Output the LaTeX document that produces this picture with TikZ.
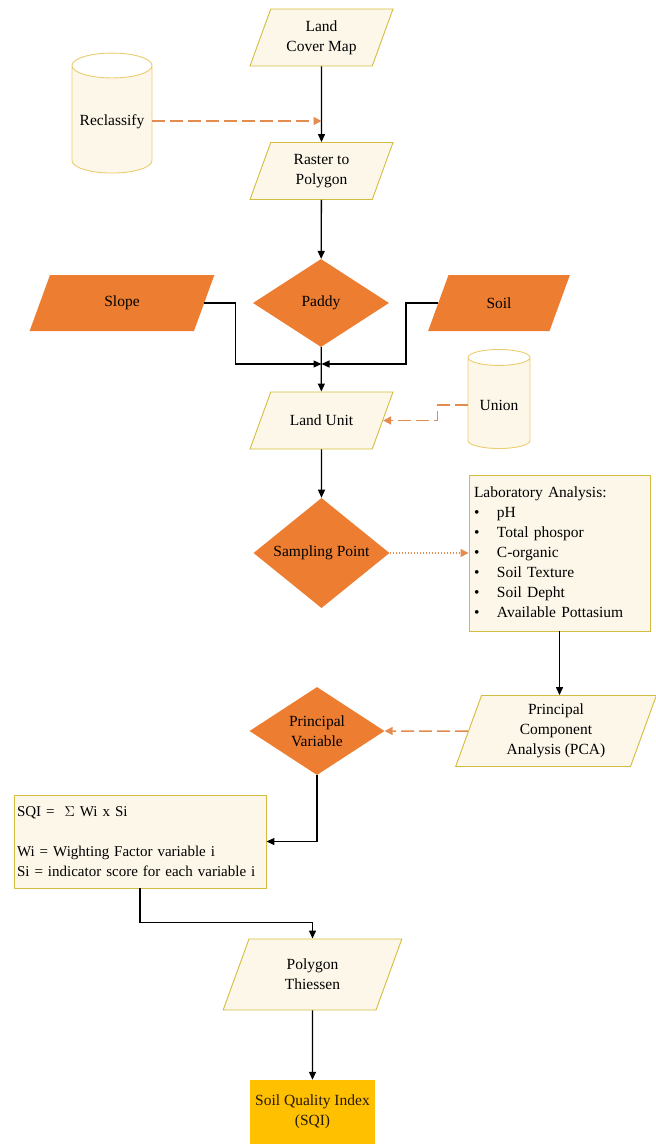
\documentclass[tikz,border=0pt]{standalone}
\usepackage{fontspec}
\setmainfont{Liberation Serif}
\usepackage{xcolor}
\usepackage{tikz}
\usetikzlibrary{arrows.meta,positioning,calc,shapes.geometric}
\definecolor{paddyorange}{RGB}{237,125,49}
\definecolor{cream}{RGB}{253,247,234}
\definecolor{goldline}{RGB}{212,188,62}
\definecolor{cylline}{RGB}{236,204,110}
\definecolor{sqigold}{RGB}{255,192,0}
\definecolor{dashorange}{RGB}{226,140,80}

\begin{document}
\begin{tikzpicture}[x=1pt,y=-1pt,font=\fontsize{15.5}{20}\selectfont,
  slanted/.style 2 args={trapezium,trapezium left angle=70,trapezium right angle=110,inner sep=0pt,
    execute at begin node={\begin{minipage}[c][#2pt][c]{#1pt}\centering},execute at end node={\end{minipage}}},
  dataio/.style 2 args={slanted={#1}{#2},draw=goldline,fill=cream,line width=0.9pt},
  layer/.style 2 args={slanted={#1}{#2},fill=paddyorange},
  choice/.style={diamond,fill=paddyorange,inner sep=0pt,align=center,minimum width=136,minimum height=88},
  tool/.style={cylinder,shape border rotate=90,cylinder uses custom fill,cylinder body fill=cream,cylinder end fill=white,
    draw=cylline,line width=0.9pt,aspect=0.35},
  notebox/.style={rectangle,draw=goldline,fill=cream,line width=0.9pt,inner xsep=5pt,align=left},
  flow/.style={-{Triangle[length=8pt,width=7pt]},line width=1.3pt},
  fdash/.style={-{Triangle[length=8pt,width=8pt]},dashorange,line width=1.5pt,dash pattern=on 13pt off 5pt},
  fdot/.style={-{Triangle[length=8pt,width=8pt]},dashorange,line width=1.3pt,dash pattern=on 1.5pt off 1.5pt}]
 \useasboundingbox (0,0) rectangle (656,1144);
 % --- land cover part ---
 \node[dataio={101.5}{57}] (lcm) at (321.5,37.5) {Land\\Cover Map};
 \node[dataio={101.5}{57}] (rtp) at (321.5,171) {Raster to\\Polygon};
 \node[tool,minimum width=80,minimum height=120] (recl) at (112,122) {Reclassify};
 \coordinate (rj) at (321.5,121);
 \draw[flow] (lcm) -- (rtp);
 \draw[fdash] (recl.east |- rj) -- (rj);
 % --- land unit ---
 \node[choice] (paddy) at (321,303) {Paddy};
 \node[layer={144}{56}] (slope) at (122,303) {Slope};
 \node[layer={101}{56}] (soil) at (499,303) {Soil};
 \node[dataio={101.5}{57}] (lu) at (321.5,420.5) {Land Unit};
 \node[tool,minimum width=62,minimum height=99] (union) at (499,405) {Union};
 \coordinate (jn) at (321.5,364);
 \draw[flow] (rtp) -- (paddy);
 \draw[flow] (paddy) -- (lu);
 \draw[flow] (slope.east) -- ++(31,0) |- (jn);
 \draw[flow] (soil.west) -- ++(-32,0) |- (jn);
 \draw[fdash] (union.west) -- ++(-30,0) |- (lu.east);
 % --- sampling ---
 \node[choice] (samp) at (321.5,553) {Sampling Point};
 \node[notebox,minimum width=181,minimum height=156,text width=171] (lab) at (559.5,553)
   {\begin{tabular}{@{}p{23pt}@{}l@{}}
     \multicolumn{2}{@{}l@{}}{Laboratory Analysis:}\\
     \textbullet & pH\\
     \textbullet & Total phospor\\
     \textbullet & C-organic\\
     \textbullet & Soil Texture\\
     \textbullet & Soil Depht\\
     \textbullet & Available Pottasium
   \end{tabular}};
 \node[dataio={149}{71}] (pca) at (556,731) {Principal\\Component\\Analysis (PCA)};
 \node[choice,minimum width=135] (pv) at (317,731) {Principal\\Variable};
 \draw[flow] (lu) -- (samp);
 \draw[fdot] (samp) -- (lab);
 \draw[flow] (lab.south) -- (lab.south |- pca.north);
 \draw[fdash] (pca.west) -- (pv.east);
 % --- soil quality index ---
 \node[notebox,minimum width=252,minimum height=93,text width=246,inner xsep=3pt,font=\fontsize{15}{20}\selectfont] (sqi) at (140,841.5)
   {SQI =\ \ $\Sigma$ Wi x Si\\[20pt]Wi = Wighting Factor variable i\\Si = indicator score for each variable i};
 \node[dataio={127}{71}] (thiessen) at (312.5,974.5) {Polygon\\Thiessen};
 \node[rectangle,fill=sqigold,minimum width=125,minimum height=64,align=center,text={black!80!brown}] (index) at (312.5,1112) {Soil Quality Index\\(SQI)};
 \draw[flow] (pv.south) |- (sqi.east);
 \draw[flow] (sqi.south) -- ++(0,34) -| (thiessen.north);
 \draw[flow] (thiessen) -- (index);
\end{tikzpicture}
\end{document}
